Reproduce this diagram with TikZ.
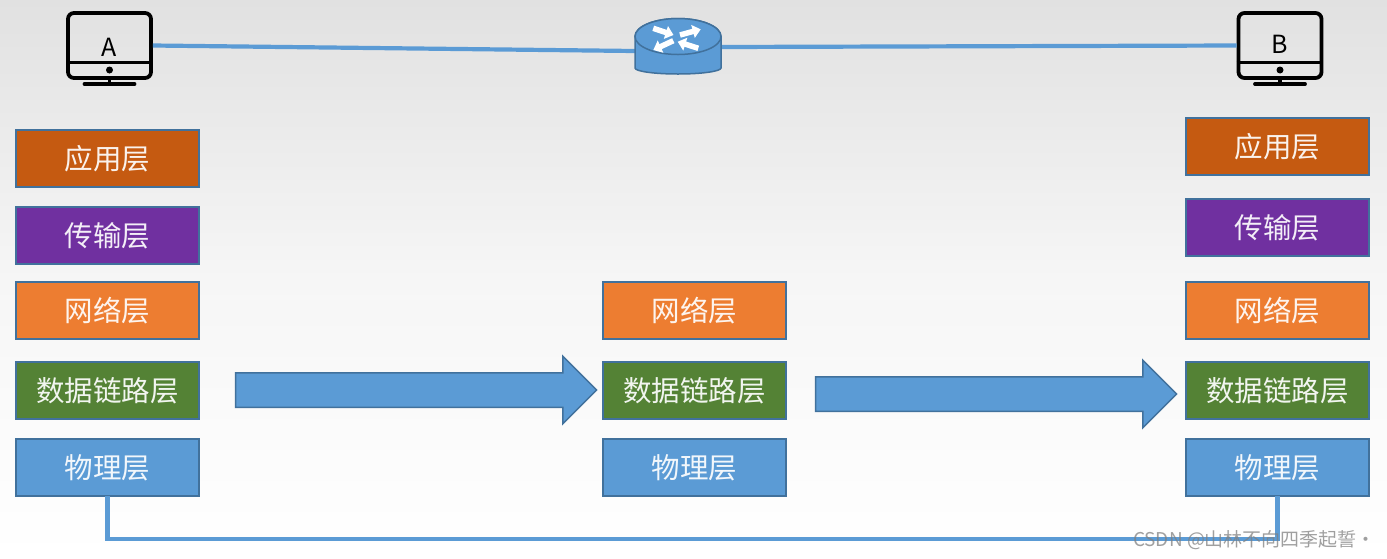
\documentclass[tikz,border=0pt]{standalone}
\usepackage{fontspec}
\setmainfont{Noto Sans CJK SC}
\usepackage{xcolor}
\usetikzlibrary{shapes,arrows,arrows.meta,positioning}

\definecolor{linkblue}{HTML}{5B9BD5}
\definecolor{edgeblue}{HTML}{41719C}
\definecolor{appbrown}{HTML}{C55A11}
\definecolor{transpurple}{HTML}{7030A0}
\definecolor{netorange}{HTML}{ED7D31}
\definecolor{datagreen}{HTML}{548235}
\definecolor{backtop}{HTML}{E1E1E1}

\begin{document}
\begin{tikzpicture}[
    x=1pt, y=1pt,
    node distance=20pt and 404pt,
    % Protocol layer boxes
    layer/.style={rectangle, draw=edgeblue, line width=1.5pt, text=white, text opacity=0.92,
        minimum width=183pt, minimum height=57pt, inner sep=0pt, outer sep=0pt,
        font=\fontsize{28.5}{28.5}\selectfont},
    app/.style={layer, fill=appbrown},
    trans/.style={layer, fill=transpurple},
    net/.style={layer, fill=netorange},
    data/.style={layer, fill=datagreen},
    phy/.style={layer, fill=linkblue},
    % Wires and block arrows
    link/.style={draw=linkblue, line width=4.2pt},
    flow/.style={single arrow, draw=edgeblue, fill=linkblue, line width=1.5pt,
        inner xsep=0pt, inner ysep=16.5pt, outer sep=0pt,
        minimum height=361pt, single arrow head extend=16.5pt,
        single arrow tip angle=90},
    % Monitor icon
    screen/.style={rectangle, rounded corners=6pt, draw=black, line width=3.8pt,
        minimum width=83pt, minimum height=65pt, inner sep=0pt, outer sep=1.9pt},
    iconline/.style={draw=black, line width=3.8pt},
    tag/.style={font=\fontsize{25}{25}\selectfont, inner sep=0pt},
    swap/.style={draw=white, line width=5.5pt, -{Triangle[length=8pt, width=13pt]}}
]
    % Background
    \shade[top color=backtop, bottom color=white, middle color=backtop!30!white]
        (0,0) rectangle (1387,-558);
    \useasboundingbox (0,0) rectangle (1387,-558);

    % Host A stack (left column)
    \node[app] (appA) at (107.5,-158.5) {应用层};
    \node[trans, below=20pt of appA] (transA) {传输层};
    \node[net, below=18pt of transA] (netA) {网络层};
    \node[data, below=23pt of netA] (dataA) {数据链路层};
    \node[phy, below=of dataA] (phyA) {物理层};

    % Router stack (middle column)
    \node[net, right=of netA] (netR) {网络层};
    \node[data, right=of dataA] (dataR) {数据链路层};
    \node[phy, right=of phyA] (phyR) {物理层};

    % Host B stack (right column)
    \node[net, right=400pt of netR] (netB) {网络层};
    \node[data, right=400pt of dataR] (dataB) {数据链路层};
    \node[phy, right=400pt of phyR] (phyB) {物理层};
    \node[trans, above=26pt of netB] (transB) {传输层};
    \node[app, above=24pt of transB] (appB) {应用层};

    % Flow between the stacks
    \node[flow] (flowAR) at (407.5,-390) {};
    \node[flow] (flowRB) at (987.5,-394) {};

    % Monitors
    \foreach \mon/\mx/\ty/\lab in {monA/109.5/-47/A, monB/1280/-44/B} {
        \node[screen] (\mon) at (\mx,-45.5) {};
        \node[tag] (\mon tag) at (\mx,\ty) {\lab};
        \draw[iconline] (\mon.west |- 0,-62.5) -- (\mon.east |- 0,-62.5);
        \fill (\mx,-70) circle (3.5);
        \coordinate (\mon neck) at (\mx,-84);
        \draw[iconline] (\mon.south) -- (\mon neck);
        \draw[iconline, line cap=round] ([xshift=-25pt]\mon neck) -- ([xshift=25pt]\mon neck);
    }

    % Router cylinder
    \coordinate (routerL) at (635,-51);
    \coordinate (routerR) at (721,-47);
    \draw[link] (monA.east) -- (routerL);
    \draw[link] (routerR) -- (monB.west);
    \draw[fill=linkblue, draw=edgeblue, line width=1.5pt]
        (635,-36.5) -- (635,-68) arc[start angle=180, end angle=360, x radius=43, y radius=6]
        -- (721,-36.5) arc[start angle=0, end angle=180, x radius=43, y radius=18] -- cycle;
    \draw[fill=linkblue, draw=edgeblue, line width=1.5pt] (678,-36.5) ellipse[x radius=43, y radius=18];
    \draw[swap] (653.3,-28.3) -- (673.5,-35);
    \draw[swap] (680,-35) -- (700.7,-29.3);
    \draw[swap] (673.3,-40.7) -- (653.3,-50);
    \draw[swap] (698.3,-48.3) -- (677.7,-41.7);

    % Physical medium
    \draw[link] (phyA.south) -- ++(0,-43) -| (phyB.south);

    % Caption
    \node[text=gray, opacity=0.75, inner sep=0pt, font=\fontsize{19}{20}\selectfont] (credit)
        at (1254.5,-540) {CSDN @山林不向四季起誓·};
\end{tikzpicture}
\end{document}
